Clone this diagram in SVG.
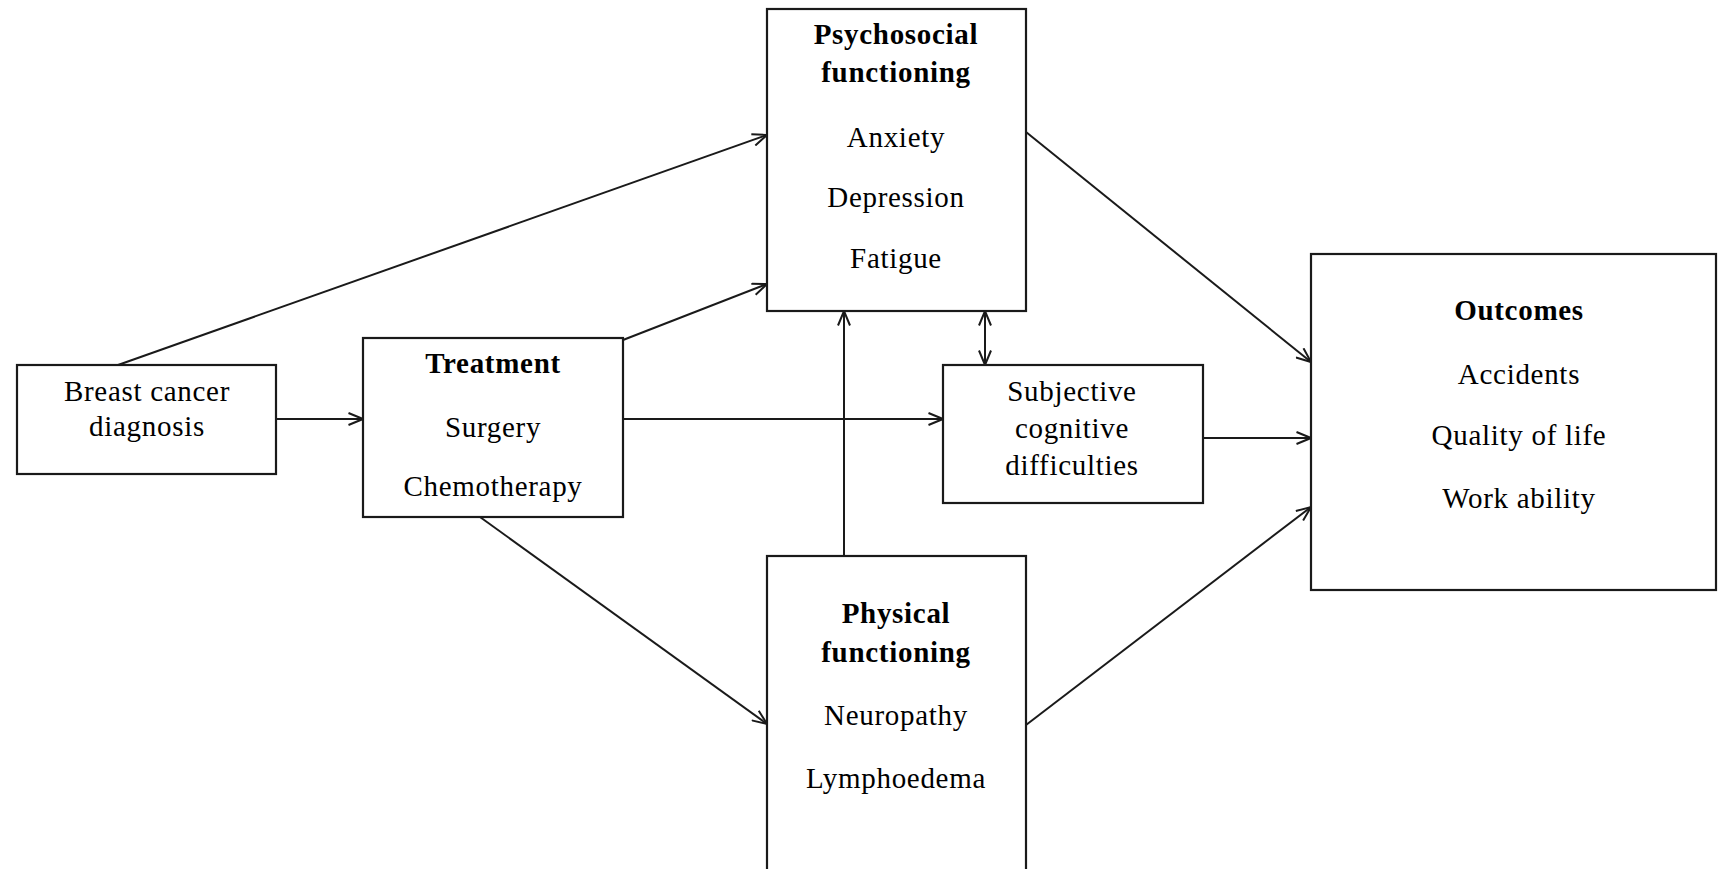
<svg xmlns="http://www.w3.org/2000/svg" width="1718" height="869" viewBox="0 0 1718 869">
<style>
.box{fill:#fff;stroke:#1a1a1a;stroke-width:2.2}
.t{font-family:"Liberation Serif","Times New Roman",serif;font-size:29px;letter-spacing:0.7px;fill:#000;text-anchor:middle}
.b{font-weight:bold}
.c{fill:none;stroke:#1a1a1a;stroke-width:2}
</style>
<defs>
<marker id="ah" viewBox="0 0 16 14" refX="15.5" refY="7" markerWidth="16" markerHeight="14" markerUnits="userSpaceOnUse" orient="auto-start-reverse">
<path d="M1,1 L15.5,7 L1,13" fill="none" stroke="#1a1a1a" stroke-width="2"/>
</marker>
</defs>
<rect width="1718" height="869" fill="#fff"/>
<g id="connectors">
<line class="c" x1="118" y1="365" x2="767" y2="135" marker-end="url(#ah)"/>
<line class="c" x1="276" y1="419" x2="363" y2="419" marker-end="url(#ah)"/>
<line class="c" x1="623" y1="340" x2="767" y2="284" marker-end="url(#ah)"/>
<line class="c" x1="623" y1="419" x2="943" y2="419" marker-end="url(#ah)"/>
<line class="c" x1="480" y1="517" x2="767" y2="724" marker-end="url(#ah)"/>
<line class="c" x1="844" y1="556" x2="844" y2="311" marker-end="url(#ah)"/>
<line class="c" x1="985" y1="311" x2="985" y2="365" marker-start="url(#ah)" marker-end="url(#ah)"/>
<line class="c" x1="1026" y1="132" x2="1311" y2="362" marker-end="url(#ah)"/>
<line class="c" x1="1203" y1="438" x2="1311" y2="438" marker-end="url(#ah)"/>
<line class="c" x1="1026" y1="725" x2="1311" y2="507" marker-end="url(#ah)"/>
</g>
<g id="breast-cancer-diagnosis">
<rect class="box" x="17" y="365" width="259" height="109"/>
<text class="t" x="147" y="401">Breast cancer</text>
<text class="t" x="147" y="436">diagnosis</text>
</g>
<g id="treatment">
<rect class="box" x="363" y="338" width="260" height="179"/>
<text class="t b" x="493" y="373">Treatment</text>
<text class="t" x="493" y="437">Surgery</text>
<text class="t" x="493" y="496">Chemotherapy</text>
</g>
<g id="psychosocial-functioning">
<rect class="box" x="767" y="9" width="259" height="302"/>
<text class="t b" x="896" y="44">Psychosocial</text>
<text class="t b" x="896" y="82">functioning</text>
<text class="t" x="896" y="147">Anxiety</text>
<text class="t" x="896" y="207">Depression</text>
<text class="t" x="896" y="268">Fatigue</text>
</g>
<g id="subjective-cognitive-difficulties">
<rect class="box" x="943" y="365" width="260" height="138"/>
<text class="t" x="1072" y="401">Subjective</text>
<text class="t" x="1072" y="438">cognitive</text>
<text class="t" x="1072" y="475">difficulties</text>
</g>
<g id="physical-functioning">
<rect class="box" x="767" y="556" width="259" height="330"/>
<text class="t b" x="896" y="623">Physical</text>
<text class="t b" x="896" y="662">functioning</text>
<text class="t" x="896" y="725">Neuropathy</text>
<text class="t" x="896" y="788">Lymphoedema</text>
</g>
<g id="outcomes">
<rect class="box" x="1311" y="254" width="405" height="336"/>
<text class="t b" x="1519" y="320">Outcomes</text>
<text class="t" x="1519" y="384">Accidents</text>
<text class="t" x="1519" y="445">Quality of life</text>
<text class="t" x="1519" y="508">Work ability</text>
</g>
</svg>
